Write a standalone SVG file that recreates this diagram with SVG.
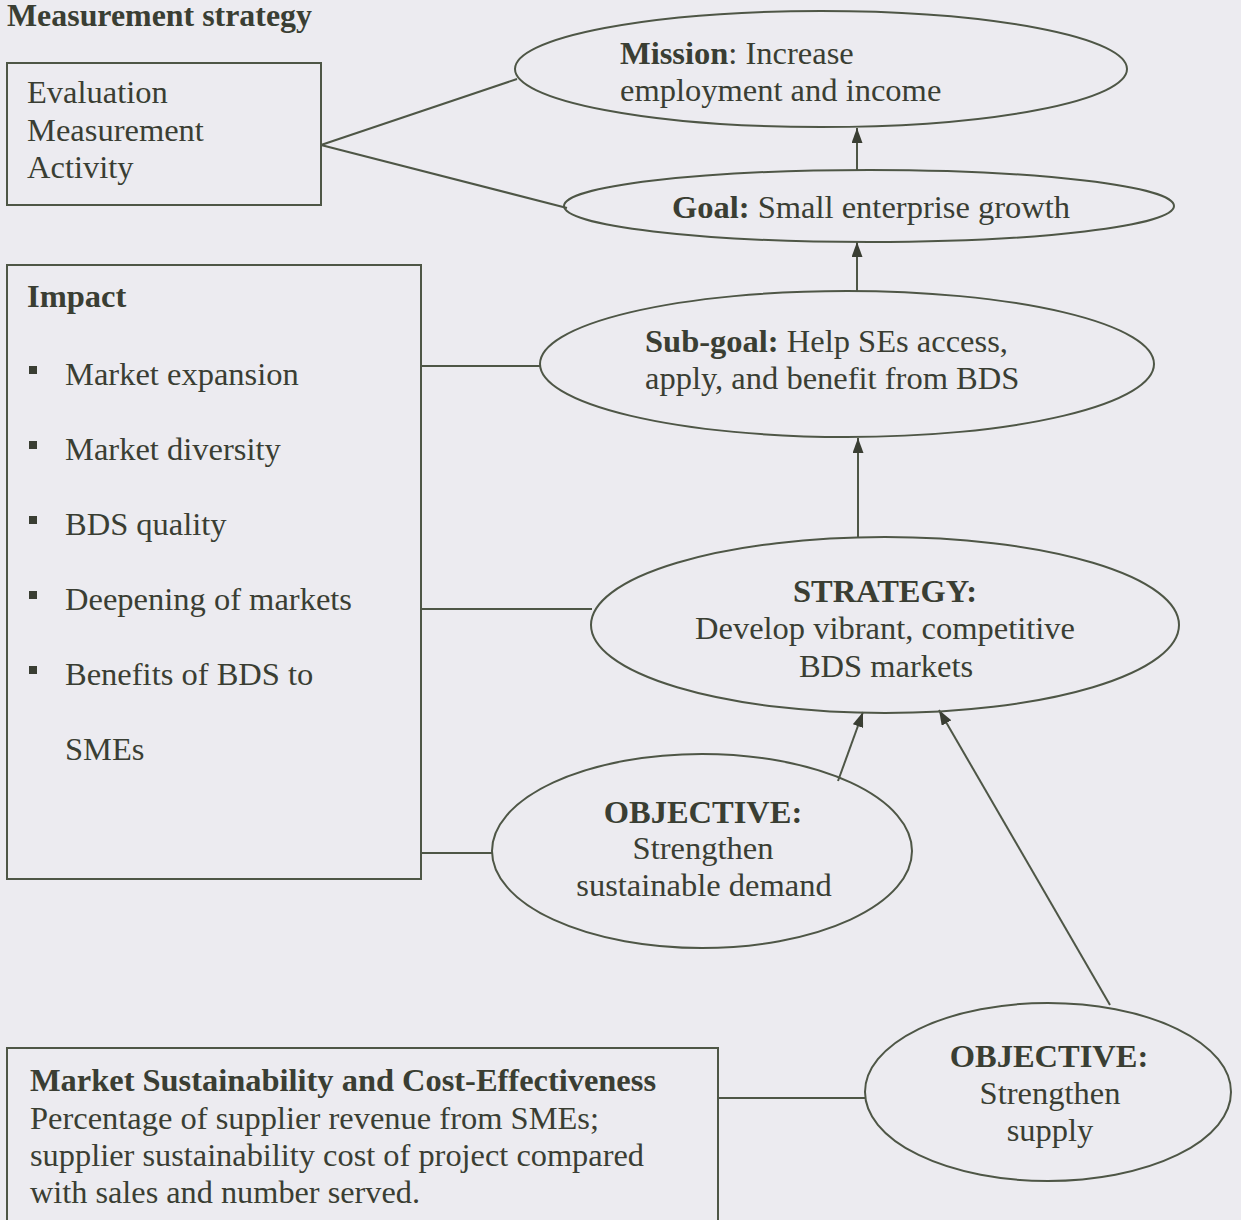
<svg xmlns="http://www.w3.org/2000/svg" width="1241" height="1220" viewBox="0 0 1241 1220">
<defs>
<style>
.bg{fill:#ECEBF0}
.shape{fill:none;stroke:#4E5646;stroke-width:2}
.conn{fill:none;stroke:#4E5646;stroke-width:2}
text{font-family:"Liberation Serif","Times New Roman",serif;fill:#3A3E33;font-size:32.5px}
.b{font-weight:bold}
.sm{font-size:32px}
.mid{text-anchor:middle}
.bullet{fill:#3A3E33}
</style>
<marker id="arr" viewBox="0 0 15 11" refX="15" refY="5.5" markerWidth="15" markerHeight="11" markerUnits="userSpaceOnUse" orient="auto">
<path d="M0,0 L15,5.5 L0,11 Z" fill="#3A3E33"/>
</marker>
</defs>
<rect class="bg" x="0" y="0" width="1241" height="1220"/>

<text class="b" x="7" y="26" font-size="26" textLength="305" lengthAdjust="spacingAndGlyphs">Measurement strategy</text>

<g id="connectors">
<line class="conn" x1="321" y1="145" x2="517" y2="79"/>
<line class="conn" x1="321" y1="145" x2="567" y2="208"/>
<line class="conn" x1="857" y1="170" x2="857" y2="128" marker-end="url(#arr)"/>
<line class="conn" x1="857" y1="292" x2="857" y2="242" marker-end="url(#arr)"/>
<line class="conn" x1="421" y1="366" x2="541" y2="366"/>
<line class="conn" x1="858" y1="537" x2="858" y2="438" marker-end="url(#arr)"/>
<line class="conn" x1="421" y1="609" x2="592" y2="609"/>
<line class="conn" x1="838" y1="781" x2="863" y2="712" marker-end="url(#arr)"/>
<line class="conn" x1="421" y1="853" x2="493" y2="853"/>
<line class="conn" x1="1110" y1="1005" x2="939" y2="710" marker-end="url(#arr)"/>
<line class="conn" x1="718" y1="1098" x2="865" y2="1098"/>
</g>

<g id="node-measurement">
<rect class="shape" x="7" y="63" width="314" height="142"/>
<text x="27" y="103">Evaluation</text>
<text x="27" y="141">Measurement</text>
<text x="27" y="178">Activity</text>
</g>

<g id="node-mission">
<ellipse class="shape" cx="821" cy="69" rx="306" ry="58"/>
<text x="620" y="64"><tspan class="b">Mission</tspan>: Increase</text>
<text x="620" y="101">employment and income</text>
</g>

<g id="node-goal">
<ellipse class="shape" cx="869" cy="206" rx="305" ry="36"/>
<text class="mid" x="871" y="218"><tspan class="b">Goal:</tspan> Small enterprise growth</text>
</g>

<g id="node-impact">
<rect class="shape" x="7" y="265" width="414" height="614"/>
<text class="b" x="27" y="307">Impact</text>
<rect class="bullet" x="29" y="366" width="8" height="8"/>
<text x="65" y="385">Market expansion</text>
<rect class="bullet" x="29" y="441" width="8" height="8"/>
<text x="65" y="460">Market diversity</text>
<rect class="bullet" x="29" y="516" width="8" height="8"/>
<text x="65" y="535">BDS quality</text>
<rect class="bullet" x="29" y="591" width="8" height="8"/>
<text x="65" y="610">Deepening of markets</text>
<rect class="bullet" x="29" y="666" width="8" height="8"/>
<text x="65" y="685">Benefits of BDS to</text>
<text x="65" y="760">SMEs</text>
</g>

<g id="node-subgoal">
<ellipse class="shape" cx="847" cy="364" rx="307" ry="73"/>
<text x="645" y="352"><tspan class="b">Sub-goal:</tspan> Help SEs access,</text>
<text x="645" y="389">apply, and benefit from BDS</text>
</g>

<g id="node-strategy">
<ellipse class="shape" cx="885" cy="625" rx="294" ry="88"/>
<text class="mid b" x="885" y="602">STRATEGY:</text>
<text class="mid" x="885" y="639">Develop vibrant, competitive</text>
<text class="mid" x="886" y="677">BDS markets</text>
</g>

<g id="node-objective-demand">
<ellipse class="shape" cx="702" cy="851" rx="210" ry="97"/>
<text class="mid b" x="703" y="823">OBJECTIVE:</text>
<text class="mid" x="703" y="859">Strengthen</text>
<text class="mid" x="704" y="896">sustainable demand</text>
</g>

<g id="node-objective-supply">
<ellipse class="shape" cx="1048" cy="1092" rx="183" ry="89"/>
<text class="mid b" x="1049" y="1067">OBJECTIVE:</text>
<text class="mid" x="1050" y="1104">Strengthen</text>
<text class="mid" x="1050" y="1141">supply</text>
</g>

<g id="node-sustainability">
<rect class="shape" x="7" y="1048" width="711" height="180"/>
<text class="b sm" x="30" y="1091" textLength="626" lengthAdjust="spacingAndGlyphs">Market Sustainability and Cost-Effectiveness</text>
<text class="sm" x="30" y="1129" textLength="569" lengthAdjust="spacingAndGlyphs">Percentage of supplier revenue from SMEs;</text>
<text class="sm" x="30" y="1166" textLength="614" lengthAdjust="spacingAndGlyphs">supplier sustainability cost of project compared</text>
<text class="sm" x="30" y="1203" textLength="390" lengthAdjust="spacingAndGlyphs">with sales and number served.</text>
</g>
</svg>
